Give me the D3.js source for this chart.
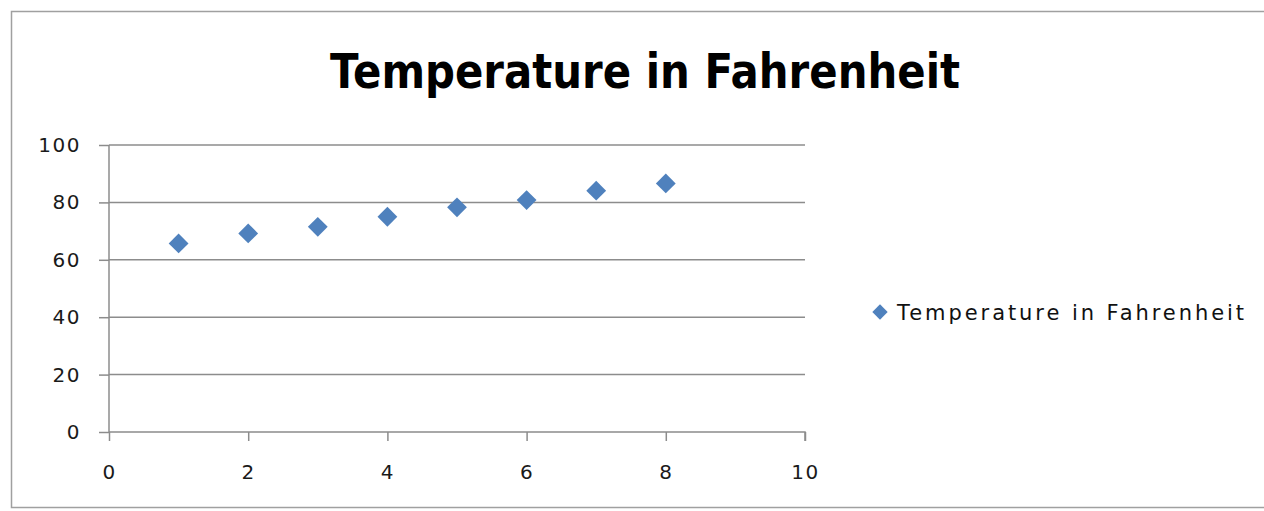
<!DOCTYPE html>
<html>
<head>
<meta charset="utf-8">
<script src="https://cdn.jsdelivr.net/npm/d3@7"></script>
<style>
  body { margin: 0; background: #fff; }
  text { font-family: "DejaVu Sans", sans-serif; }
</style>
</head>
<body>
<div id="chart"></div>
<script>
const title = 'Temperature in Fahrenheit'
const seriesName = 'Temperature in Fahrenheit'
const xValues = [1, 2, 3, 4, 5, 6, 7, 8]
const yValues = [65.7, 69.2, 71.5, 75, 78.3, 80.8, 84.1, 86.6]
const xTicks = [0, 2, 4, 6, 8, 10]
const yTicks = [0, 20, 40, 60, 80, 100]

const width = 1264, height = 511
const plot = { left: 109, right: 805, top: 145, bottom: 432 }

const svg = d3.select('#chart').append('svg')
  .attr('width', width)
  .attr('height', height)

// chart frame
svg.append('rect')
  .attr('x', 11.5).attr('y', 11.5)
  .attr('width', 1270).attr('height', 496)
  .attr('fill', 'none')
  .attr('stroke', '#a0a0a0')
  .attr('stroke-width', 1.5)

svg.append('text')
  .attr('x', 645).attr('y', 88)
  .attr('text-anchor', 'middle')
  .attr('font-family', '"Open Sans", sans-serif')
  .attr('font-weight', 600)
  .attr('font-size', 48)
  .attr('textLength', 630)
  .attr('lengthAdjust', 'spacingAndGlyphs')
  .text(title)

const x = d3.scaleLinear().domain([0, 10]).range([plot.left, plot.right])
const y = d3.scaleLinear().domain([0, 100]).range([plot.bottom, plot.top])

// horizontal gridlines
svg.append('g').selectAll('line')
  .data(yTicks.filter(d => d > 0))
  .enter().append('line')
  .attr('x1', plot.left).attr('x2', plot.right)
  .attr('y1', d => y(d)).attr('y2', d => y(d))
  .attr('stroke', '#8c8c8c')
  .attr('stroke-width', 1.5)

const yAxis = svg.append('g')
  .attr('transform', `translate(${plot.left},0)`)
  .call(d3.axisLeft(y).tickValues(yTicks).tickSize(10).tickPadding(18))
const xAxis = svg.append('g')
  .attr('transform', `translate(0,${plot.bottom})`)
  .call(d3.axisBottom(x).tickValues(xTicks).tickSize(9).tickPadding(24))

for (const ax of [yAxis, xAxis]) {
  ax.select('.domain').attr('stroke', '#8c8c8c').attr('stroke-width', 1.5)
  ax.selectAll('.tick line').attr('stroke', '#8c8c8c').attr('stroke-width', 1.5)
  ax.selectAll('.tick text')
    .attr('font-family', '"DejaVu Sans", sans-serif')
    .attr('font-size', 20)
    .attr('letter-spacing', 1.5)
    .attr('fill', '#1a1a1a')
}
yAxis.select('.domain').attr('d', `M0,${plot.bottom}V${plot.top}`)
xAxis.select('.domain').attr('d', `M${plot.left},0H${plot.right}V9`)

const diamond = d3.symbol().type(d3.symbolDiamond2).size(250)

svg.append('g').selectAll('path')
  .data(xValues.map((d, i) => [d, yValues[i]]))
  .enter().append('path')
  .attr('d', diamond)
  .attr('transform', d => `translate(${x(d[0])},${y(d[1])})`)
  .attr('fill', '#4f81bd')

// legend
const legend = svg.append('g').attr('transform', 'translate(880,312)')
legend.append('path')
  .attr('d', d3.symbol().type(d3.symbolDiamond2).size(150))
  .attr('fill', '#4f81bd')
legend.append('text')
  .attr('x', 17).attr('y', 8)
  .attr('font-size', 21)
  .attr('fill', '#111')
  .attr('textLength', 347)
  .text(seriesName)
</script>
</body>
</html>
